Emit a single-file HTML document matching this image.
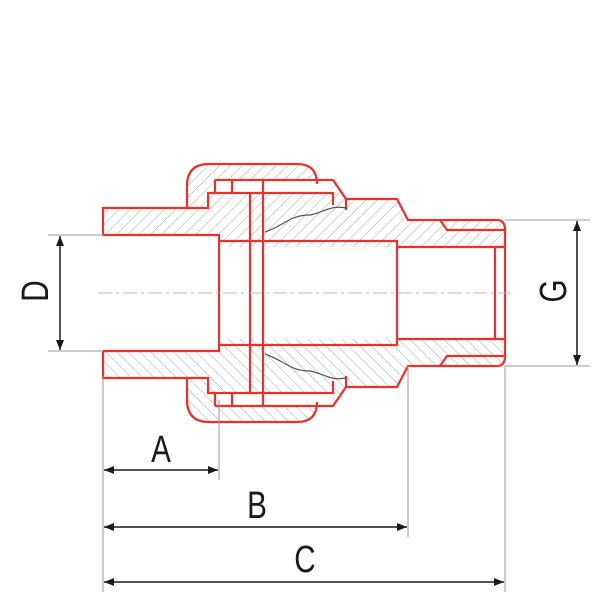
<!DOCTYPE html>
<html><head><style>body{margin:0;background:#fff}</style></head><body>
<svg width="600" height="600" viewBox="0 0 600 600" xmlns="http://www.w3.org/2000/svg" font-family="Liberation Sans, sans-serif">
<defs>
<pattern id="h" width="8" height="8" patternUnits="userSpaceOnUse" patternTransform="rotate(45)">
<line x1="0" y1="0" x2="0" y2="8" stroke="#aaa" stroke-width="1"/></pattern>
<marker id="ar" viewBox="0 0 10 10" refX="10" refY="5" markerWidth="10" markerHeight="10" orient="auto-start-reverse" markerUnits="userSpaceOnUse"><path d="M0,1 L10,5 L0,9z" fill="#1a1a1a"/></marker>
</defs>
<g id="top">
<path d="M103,208 L187,208 L187,186 Q187,164 209,164 L297,164 Q317,164 317,184 L333,180 L346,199 L397,199 L408,220 L497,220 Q505,220 505,230 L505,247 L219,247 L219,235 L103,235 Z" fill="url(#h)"/>
<rect x="215" y="180" width="118" height="13" fill="#fff"/>
<g fill="none" stroke="#e8322a" stroke-width="2.2">
<path d="M103,235 L103,208 L187,208 L187,186 Q187,164 209,164 L297,164 Q317,164 317,184 L317,180"/>
<path d="M187,208 L208,208 L208,193 L215,193"/>
<path d="M215,180 L333,180 L346,199 L346,210"/>
<path d="M215,180 L215,193 L333,193 L333,205"/>
<line x1="232" y1="180" x2="232" y2="193"/>
<path d="M346,199 L397,199 L408,220 L497,220 Q505,220 505,230 L505,293"/>
<path d="M440,220 L447,230 L505,230"/>
<path d="M103,235 L219,235 L219,293"/>
<path d="M219,241 L397,241 L397,293"/>
<path d="M397,247 L505,247"/>
<line x1="495" y1="247" x2="495" y2="293"/>
<line x1="250" y1="193" x2="250" y2="293"/>
<line x1="263" y1="180" x2="263" y2="293"/>
</g>
<path d="M265,232 C285,225 290,215 310,215 C325,212 330,205 346,208" fill="none" stroke="#555" stroke-width="1.2"/>
</g>
<use href="#top" transform="translate(0,586) scale(1,-1)"/>
<line x1="98" y1="293" x2="510" y2="293" stroke="#bbb" stroke-width="1" stroke-dasharray="14,4,3,4"/>
<g stroke="#999" stroke-width="1">
<line x1="48" y1="235" x2="103" y2="235"/><line x1="48" y1="351" x2="103" y2="351"/>
<line x1="505" y1="220" x2="590" y2="220"/><line x1="505" y1="366" x2="590" y2="366"/>
<line x1="103" y1="376" x2="103" y2="592"/>
<line x1="219" y1="400" x2="219" y2="480"/>
<line x1="408" y1="366" x2="408" y2="537"/>
<line x1="505" y1="366" x2="505" y2="592"/>
</g>
<g stroke="#1a1a1a" stroke-width="1.5" marker-start="url(#ar)" marker-end="url(#ar)">
<line x1="60" y1="236" x2="60" y2="350"/>
<line x1="577" y1="221" x2="577" y2="365"/>
<line x1="104" y1="470" x2="218" y2="470"/>
<line x1="104" y1="527" x2="407" y2="527"/>
<line x1="104" y1="582" x2="504" y2="582"/>
</g>
<g font-size="38" fill="#1a1a1a" text-anchor="middle">
<text transform="translate(161,462) scale(0.78,1)">A</text>
<text transform="translate(257,518) scale(0.78,1)">B</text>
<text transform="translate(305,572) scale(0.78,1)">C</text>
<text transform="translate(48,291) rotate(-90) scale(0.78,1)">D</text>
<text transform="translate(566,291) rotate(-90) scale(0.78,1)">G</text>
</g>
</svg>
</body></html>
